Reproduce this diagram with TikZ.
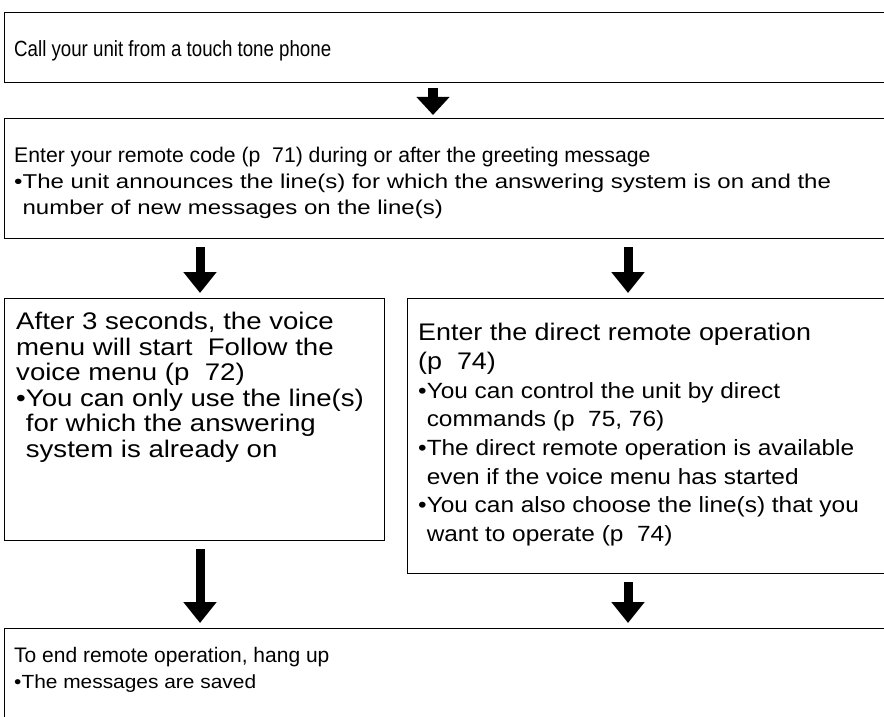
\documentclass[tikz,border=0pt]{standalone}
\usepackage{fontspec}
\setmainfont{Liberation Sans}
\newfontfamily\fTop[FakeStretch=0.85]{Liberation Sans}
\newfontfamily\fMid{Liberation Sans}
\newfontfamily\fMidB[FakeStretch=1.2]{Liberation Sans}
\newfontfamily\fLow[FakeStretch=1.15]{Liberation Sans}
\newfontfamily\fLowH[FakeStretch=1.12]{Liberation Sans}
\newfontfamily\fLowB[FakeStretch=1.11]{Liberation Sans}
\newfontfamily\fEnd[FakeStretch=1.1]{Liberation Sans}
\usetikzlibrary{arrows.meta}
\begin{document}
\begin{tikzpicture}[x=1pt,y=-1pt,
  box/.style={draw, line width=1.4pt, rectangle, anchor=north west, inner sep=0pt},
  txt/.style={anchor=north west, inner sep=0pt, align=left},
  bigarrow/.style={line width=9pt, -{Triangle[width=32pt,length=21pt]}, shorten <=8pt, shorten >=5pt},
  smallarrow/.style={line width=9.5pt, -{Triangle[width=32pt,length=18pt]}, shorten <=5pt, shorten >=3pt}]
\useasboundingbox (0,0) rectangle (884,717);
% boxes
\node[box, minimum width=900pt, minimum height=70pt] (b1) at (4,12) {};
\node[box, minimum width=900pt, minimum height=120pt] (b2) at (4,118) {};
\node[box, minimum width=380pt, minimum height=242pt] (b3) at (4,298) {};
\node[box, minimum width=500pt, minimum height=275pt] (b4) at (407,298) {};
\node[box, minimum width=900pt, minimum height=120pt] (b5) at (4,628) {};
% texts
\node[txt, font=\fTop\fontsize{22}{26}\selectfont] (t1) at (14,40) {Call your unit from a touch tone phone};
\node[txt, font=\fMid\fontsize{21.2}{27}\selectfont] (t2) at (14,147) {Enter your remote code (p\ \ 71) during or after the greeting message};
\node[txt, font=\fMidB\fontsize{20}{26}\selectfont] (t3) at (14,174) {•The unit announces the line(s) for which the answering system is on and the\\\phantom{•}number of new messages on the line(s)};
\node[txt, font=\fLow\fontsize{24}{25.5}\selectfont] (t4) at (16,312) {After 3 seconds, the voice\\menu will start\ \ Follow the\\voice menu (p\ \ 72)\\•You can only use the line(s)\\\phantom{•}for which the answering\\\phantom{•}system is already on};
\node[txt, font=\fLowH\fontsize{24}{28.7}\selectfont] (t5) at (418,323) {Enter the direct remote operation\\(p\ \ 74)};
\node[txt, font=\fLowB\fontsize{22}{28.7}\selectfont] (t6) at (418,382) {•You can control the unit by direct\\\phantom{•}commands (p\ \ 75, 76)\\•The direct remote operation is available\\\phantom{•}even if the voice menu has started\\•You can also choose the line(s) that you\\\phantom{•}want to operate (p\ \ 74)};
\node[txt, font=\fMid\fontsize{21}{27}\selectfont] (t7) at (14,647) {To end remote operation, hang up};
\node[txt, font=\fEnd\fontsize{19}{24}\selectfont] (t8) at (14,675) {•The messages are saved};
% arrow columns
\coordinate (xa) at (433,0);
\coordinate (xl) at (200,0);
\coordinate (xr) at (628,0);
% arrows
\draw[smallarrow] (b1.south -| xa) -- (b2.north -| xa);
\draw[bigarrow] (b2.south -| xl) -- (b3.north -| xl);
\draw[bigarrow] (b2.south -| xr) -- (b4.north -| xr);
\draw[bigarrow] (b3.south -| xl) -- (b5.north -| xl);
\draw[bigarrow] (b4.south -| xr) -- (b5.north -| xr);
\end{tikzpicture}
\end{document}
